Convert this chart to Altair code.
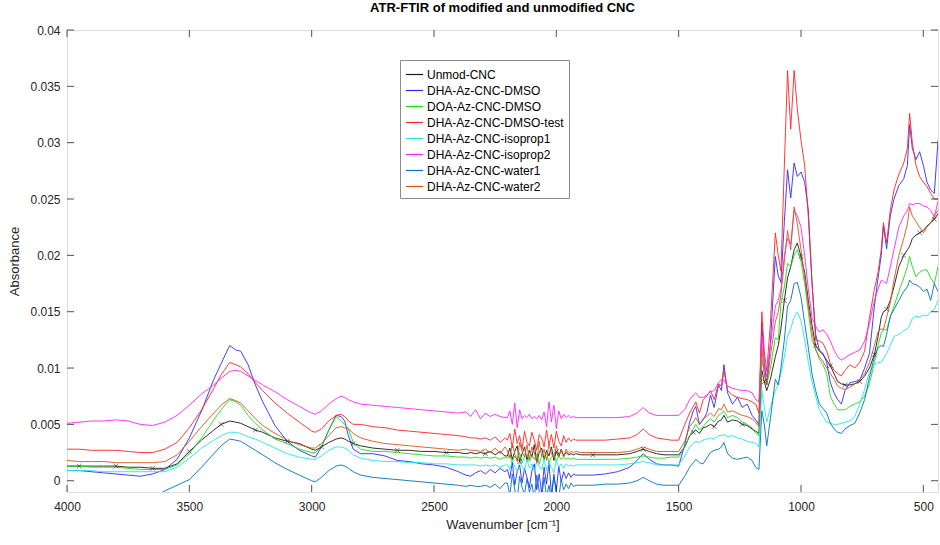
import altair as alt
import pandas as pd

# wavenumber grid (cm^-1)
WN = [4000, 3950, 3900, 3850, 3800, 3750, 3700, 3650, 3600, 3550,
      3500, 3450, 3400, 3370, 3335, 3310, 3290, 3260, 3230, 3200,
      3150, 3100, 3050, 3000, 2985, 2960, 2930, 2900, 2880, 2865,
      2850, 2830, 2800, 2750, 2700, 2650, 2600, 2550, 2500, 2450,
      2400, 2370, 2350, 2330, 2310, 2290, 2270, 2250, 2230, 2210,
      2200, 2190, 2180, 2170, 2160, 2150, 2140, 2130, 2120, 2110,
      2100, 2090, 2080, 2070, 2060, 2050, 2040, 2030, 2020, 2010,
      2000, 1990, 1980, 1970, 1960, 1950, 1940, 1930, 1920,
      1900, 1850, 1800, 1750, 1700, 1670, 1645, 1620, 1590, 1560, 1530,
      1500, 1475, 1455, 1440, 1430, 1415, 1400, 1385, 1370, 1355,
      1337, 1325, 1315, 1300, 1280, 1260, 1240, 1220, 1200, 1185,
      1172, 1160, 1150, 1140, 1125, 1105, 1093, 1082, 1068, 1055,
      1042, 1028, 1015, 1000, 985, 970, 955, 940, 925, 910,
      895, 880, 865, 850, 835, 820, 800, 780, 760, 740,
      720, 700, 685, 672, 663, 650, 635, 620, 600, 580,
      565, 556, 545, 530, 515, 500, 485, 470, 455, 440]

# absorbance values in units of 1e-4
unmod = [13, 13, 13, 13, 13, 12, 12, 11, 11, 15,
         26, 36, 45, 50, 53, 52, 51, 48, 45, 43,
         38, 35, 33, 28, 27, 30, 34, 37, 38, 37,
         35, 33, 31, 29, 28, 27, 27, 26, 26, 25,
         25, 24, 25, 24, 25, 24, 26, 23, 26, 22,
         22, 29, 19, 26, 31, 17, 24, 30, 18, 27,
         21, 32, 16, 25, 29, 19, 27, 22, 30, 18,
         26, 21, 28, 22, 25, 23, 24, 23, 24,
         23, 23, 23, 23, 24, 26, 28, 26, 24, 23, 23,
         23, 30, 40, 43, 45, 42, 47, 48, 50, 48,
         53, 54, 58, 52, 54, 53, 50, 49, 46, 44,
         42, 98, 88, 80, 90, 110, 120, 135, 160, 180,
         190, 205, 211, 199, 185, 160, 138, 120, 115, 112,
         107, 102, 95, 88, 86, 85, 85, 86, 88, 93,
         100, 112, 128, 145, 150, 152, 160, 172, 190, 200,
         205, 208, 215, 218, 220, 222, 226, 229, 232, 237]

dmso = [9, 9, 8, 7, 6, 5, 4, 6, 10, 19,
        38, 62, 90, 104, 120, 116, 115, 103, 85, 70,
        49, 35, 27, 22, 21, 30, 45, 58, 57, 53,
        40, 28, 24, 24, 22, 18, 17, 15, 14, 12,
        8, 5, 4, 7, 9, 6, 10, 7, 11, 8,
        10, 2, 17, -4, 8, 14, -2, 11, 3, -6,
        9, 15, -8, 6, -11, 12, -3, 16, -12, 4,
        -9, 13, -1, 8, 2, 7, 3, 6, 5,
        5, 5, 6, 8, 12, 18, 24, 19, 15, 14, 14,
        13, 32, 52, 62, 66, 50, 54, 60, 76, 65,
        85, 80, 103, 78, 68, 74, 65, 68, 58, 54,
        50, 140, 105, 85, 122, 199, 182, 176, 230, 276,
        251, 282, 270, 274, 265, 240, 176, 130, 116, 113,
        105, 87, 78, 72, 68, 80, 87, 88, 89, 100,
        113, 155, 180, 200, 226, 206, 235, 250, 262, 268,
        280, 316, 295, 285, 292, 280, 265, 258, 255, 302]

doa = [13, 13, 12, 12, 12, 11, 10, 10, 10, 14,
       24, 38, 54, 63, 72, 70, 67, 58, 51, 45,
       37, 33, 28, 25, 25, 30, 45, 57, 53, 50,
       46, 34, 28, 26, 26, 25, 24, 23, 22, 22,
       21, 21, 20, 21, 20, 21, 20, 21, 19, 21,
       20, 23, 17, 22, 19, 25, 16, 21, 24, 17,
       22, 19, 24, 15, 22, 20, 25, 16, 21, 23,
       17, 22, 19, 21, 19, 20, 19, 20, 19,
       19, 19, 19, 19, 20, 21, 22, 21, 20, 20, 21,
       21, 30, 40, 46, 50, 45, 48, 52, 55, 52,
       58, 60, 62, 56, 58, 56, 52, 50, 47, 42,
       40, 108, 95, 85, 100, 127, 125, 158, 172, 193,
       190, 200, 205, 195, 175, 150, 125, 117, 108, 103,
       95, 75, 68, 63, 63, 63, 66, 68, 70, 75,
       86, 105, 120, 131, 134, 134, 145, 155, 168, 180,
       190, 199, 190, 181, 185, 187, 187, 180, 175, 190]

test = [28, 28, 27, 27, 27, 26, 25, 25, 28, 34,
        47, 63, 82, 94, 105, 103, 101, 95, 87, 80,
        69, 60, 52, 44, 43, 46, 53, 58, 59, 57,
        53, 50, 50, 48, 47, 45, 44, 43, 42, 41,
        40, 39, 38, 38, 37, 38, 36, 39, 34, 38,
        36, 42, 29, 46, 33, 40, 28, 44, 34, 31,
        43, 36, 27, 41, 38, 30, 45, 32, 41, 29,
        44, 35, 31, 40, 34, 38, 35, 37, 36,
        36, 36, 36, 37, 38, 41, 46, 41, 38, 37, 36,
        36, 50, 60, 66, 70, 60, 72, 75, 80, 72,
        86, 84, 98, 80, 76, 74, 73, 72, 70, 68,
        60, 150, 115, 97, 140, 220, 200, 186, 280, 364,
        312, 364, 330, 302, 280, 234, 176, 125, 124, 122,
        115, 104, 98, 95, 93, 98, 103, 100, 105, 115,
        145, 170, 185, 205, 229, 211, 240, 258, 272, 282,
        295, 326, 300, 280, 270, 265, 261, 255, 250, 250]

iso1 = [9, 9, 9, 8, 8, 8, 8, 8, 8, 12,
        20, 29, 36, 40, 43, 43, 42, 39, 37, 34,
        29, 24, 21, 19, 19, 22, 27, 30, 30, 29,
        27, 23, 20, 18, 17, 17, 16, 16, 15, 15,
        14, 14, 14, 14, 13, 14, 13, 14, 12, 14,
        14, 10, 18, 12, 8, 17, 13, 9, 19, 11,
        15, 8, 17, 13, 10, 19, 9, 16, 12, 7,
        18, 12, 15, 11, 15, 13, 14, 13, 14,
        14, 14, 14, 14, 15, 16, 17, 16, 14, 14, 14,
        14, 22, 30, 33, 35, 34, 36, 37, 38, 37,
        40, 40, 41, 39, 40, 38, 37, 35, 34, 33,
        30, 80, 65, 52, 65, 80, 85, 95, 110, 128,
        135, 145, 150, 142, 125, 105, 88, 75, 63, 57,
        52, 51, 50, 50, 51, 52, 53, 57, 68, 81,
        97, 103, 105, 105, 108, 113, 120, 128, 130, 133,
        135, 138, 144, 146, 145, 147, 146, 150, 152, 160]

iso2 = [51, 52, 53, 53, 54, 53, 50, 49, 52, 58,
        67, 77, 85, 91, 97, 98, 97, 93, 89, 85,
        79, 72, 66, 60, 59, 62, 68, 73, 75, 74,
        72, 70, 68, 67, 66, 65, 64, 63, 62, 61,
        60, 61, 57, 63, 55, 60, 57, 59, 57, 56,
        56, 62, 50, 69, 47, 63, 55, 58, 56, 59,
        55, 57, 55, 58, 54, 61, 48, 70, 52, 67,
        46, 62, 55, 59, 56, 58, 56, 57, 56,
        56, 56, 56, 56, 57, 60, 65, 60, 58, 58, 58,
        58, 63, 72, 76, 78, 74, 74, 76, 79, 80,
        87, 90, 89, 84, 82, 81, 80, 80, 78, 72,
        70, 128, 105, 92, 120, 155, 160, 170, 200, 215,
        210, 240, 235, 225, 200, 170, 145, 137, 132, 134,
        130, 124, 116, 110, 107, 109, 112, 114, 116, 124,
        140, 160, 170, 178, 177, 175, 190, 205, 225, 235,
        240, 246, 245, 246, 246, 244, 243, 240, 234, 248]

water1 = [-20, -19, -19, -18, -18, -18, -17, -15, -9, -4,
          1, 12, 24, 31, 37, 36, 35, 31, 27, 23,
          16, 10, 5, 0, -1, 3, 9, 13, 14, 13,
          11, 8, 5, 3, 2, 1, 0, -1, -2, -3,
          -4, -5, -4, -5, -5, -4, -6, -3, -7, -2,
          -2, -13, 6, -8, -17, 4, -6, -12, 2, -10,
          -3, -15, 5, -9, -16, 3, -14, -4, -18, 6,
          -11, -15, 1, -8, -3, -7, -2, -5, -4,
          -4, -4, -3, -3, -2, 0, 3, 0, -3, -4, -4,
          -4, 4, 12, 16, 19, 16, 15, 20, 25, 27,
          28, 30, 34, 24, 20, 19, 20, 21, 18, 12,
          10, 62, 50, 31, 55, 90, 85, 100, 125, 155,
          160, 175, 176, 163, 140, 118, 95, 80, 68, 64,
          60, 51, 46, 43, 42, 46, 49, 51, 60, 72,
          92, 110, 118, 120, 119, 130, 146, 152, 160, 168,
          172, 178, 175, 174, 172, 168, 170, 160, 175, 168]

water2 = [18, 17, 17, 17, 16, 16, 16, 16, 17, 23,
          35, 48, 60, 67, 73, 71, 69, 62, 55, 49,
          42, 36, 32, 29, 29, 33, 40, 47, 48, 47,
          46, 42, 38, 35, 33, 32, 31, 30, 29, 28,
          27, 28, 27, 27, 26, 28, 25, 29, 24, 30,
          27, 20, 33, 24, 17, 34, 26, 21, 32, 19,
          30, 25, 16, 35, 22, 28, 18, 33, 24, 20,
          31, 23, 27, 21, 28, 24, 26, 25, 26,
          25, 25, 25, 25, 26, 28, 30, 28, 26, 26, 26,
          26, 35, 48, 52, 56, 50, 55, 57, 60, 57,
          64, 63, 68, 61, 62, 60, 58, 57, 55, 52,
          48, 118, 95, 85, 110, 141, 150, 165, 195, 222,
          205, 243, 228, 205, 180, 155, 132, 116, 110, 106,
          100, 95, 90, 84, 82, 81, 83, 86, 90, 95,
          105, 120, 132, 135, 134, 145, 158, 178, 200, 215,
          228, 243, 235, 230, 225, 220, 225, 229, 235, 240]

SERIES = ["Unmod-CNC", "DHA-Az-CNC-DMSO", "DOA-Az-CNC-DMSO", "DHA-Az-CNC-DMSO-test",
          "DHA-Az-CNC-isoprop1", "DHA-Az-CNC-isoprop2", "DHA-Az-CNC-water1", "DHA-Az-CNC-water2"]
COLORS = ["#1a1a1a", "#2a2aff", "#1ed81e", "#ff2424", "#22e6e6", "#ff24ff", "#0072BD", "#D95319"]
VALUES = [unmod, dmso, doa, test, iso1, iso2, water1, water2]

UNMOD_MARKERS = [3950, 3800, 3650, 3500, 3370, 3230, 3100, 2960, 2830, 2650, 2450, 2290,
                 2150, 2000, 1850, 1645, 1440, 1355, 1240, 1150, 1068, 1000, 940, 880,
                 820, 760, 700, 650, 580, 515, 455]

XTICKS = [4000, 3500, 3000, 2500, 2000, 1500, 1000, 500]
YTICKS = [0, 0.005, 0.01, 0.015, 0.02, 0.025, 0.03, 0.035, 0.04]

rows = []
for name, vals in zip(SERIES, VALUES):
    assert len(vals) == len(WN), (name, len(vals), len(WN))
    for i, (w, v) in enumerate(zip(WN, vals)):
        rows.append({"wn": w, "A": v / 1e4, "series": name, "idx": i})
df = pd.DataFrame(rows)
mk = df[(df.series == "Unmod-CNC") & (df.wn.isin(UNMOD_MARKERS))]

W, H = 871, 462
AX = "#262626"
FONT = "Liberation Sans"

xs = alt.Scale(domain=[440, 4000], reverse=True, nice=False, zero=False)
ys = alt.Scale(domain=[-0.001, 0.04], nice=False, zero=False)

lines = alt.Chart(df).mark_line(strokeWidth=0.9, clip=True).encode(
    x=alt.X("wn:Q", scale=xs,
            axis=alt.Axis(values=XTICKS, format="d", ticks=False, tickSize=0, domain=False,
                          grid=False, labelPadding=9, labelFontSize=12, labelColor=AX,
                          labelFlush=False,
                          title="Wavenumber [cm⁻¹]", titleFontSize=13, titleFontWeight="normal",
                          titleColor=AX, titlePadding=6, labelFont=FONT, titleFont=FONT)),
    y=alt.Y("A:Q", scale=ys,
            axis=alt.Axis(values=YTICKS, format="~g", ticks=False, tickSize=0, domain=False,
                          grid=False, labelPadding=7, labelFontSize=12, labelColor=AX,
                          labelFlush=False,
                          title="Absorbance", titleFontSize=13, titleFontWeight="normal",
                          titleColor=AX, titlePadding=8, labelFont=FONT, titleFont=FONT)),
    color=alt.Color("series:N", sort=SERIES,
                    scale=alt.Scale(domain=SERIES, range=COLORS),
                    legend=alt.Legend(title=None, orient="none", legendX=333, legendY=30,
                                      symbolType="stroke", symbolSize=300, symbolStrokeWidth=1.2,
                                      labelFontSize=12, labelFont=FONT, labelColor="#000000",
                                      rowPadding=0, padding=5, labelOffset=3,
                                      strokeColor="#8c8c8c", fillColor="white",
                                      labelLimit=300)),
    order="idx:Q",
)

markers = alt.Chart(mk).mark_point(
    shape="M-1,-1L1,1M-1,1L1,-1", size=22, filled=False, strokeWidth=0.8,
    color="#1a1a1a", clip=True
).encode(x=alt.X("wn:Q", scale=xs), y=alt.Y("A:Q", scale=ys))

yt = pd.DataFrame({"t": YTICKS})
xt = pd.DataFrame({"t": XTICKS})
tl = alt.Chart(yt).mark_rule(color=AX, strokeWidth=0.8).encode(
    y=alt.Y("t:Q", scale=ys), x=alt.value(0), x2=alt.value(7))
tr = alt.Chart(yt).mark_rule(color=AX, strokeWidth=0.8).encode(
    y=alt.Y("t:Q", scale=ys), x=alt.value(W - 7), x2=alt.value(W))
tb = alt.Chart(xt).mark_rule(color=AX, strokeWidth=0.8).encode(
    x=alt.X("t:Q", scale=xs), y=alt.value(H - 7), y2=alt.value(H))
tt = alt.Chart(xt).mark_rule(color=AX, strokeWidth=0.8).encode(
    x=alt.X("t:Q", scale=xs), y=alt.value(0), y2=alt.value(7))

chart = alt.layer(lines, markers, tl, tr, tb, tt).properties(
    width=W, height=H,
    title=alt.TitleParams("ATR-FTIR of modified and unmodified CNC", fontSize=13,
                          fontWeight="bold", font=FONT, color="#000000", offset=9),
    autosize=alt.AutoSizeParams(type="none"),
    padding={"left": 67, "top": 30, "right": 2, "bottom": 53},
).configure_view(stroke=AX, strokeWidth=1).configure(background="white")

chart.save("out.html", embed_options={"renderer": "svg", "actions": False})
